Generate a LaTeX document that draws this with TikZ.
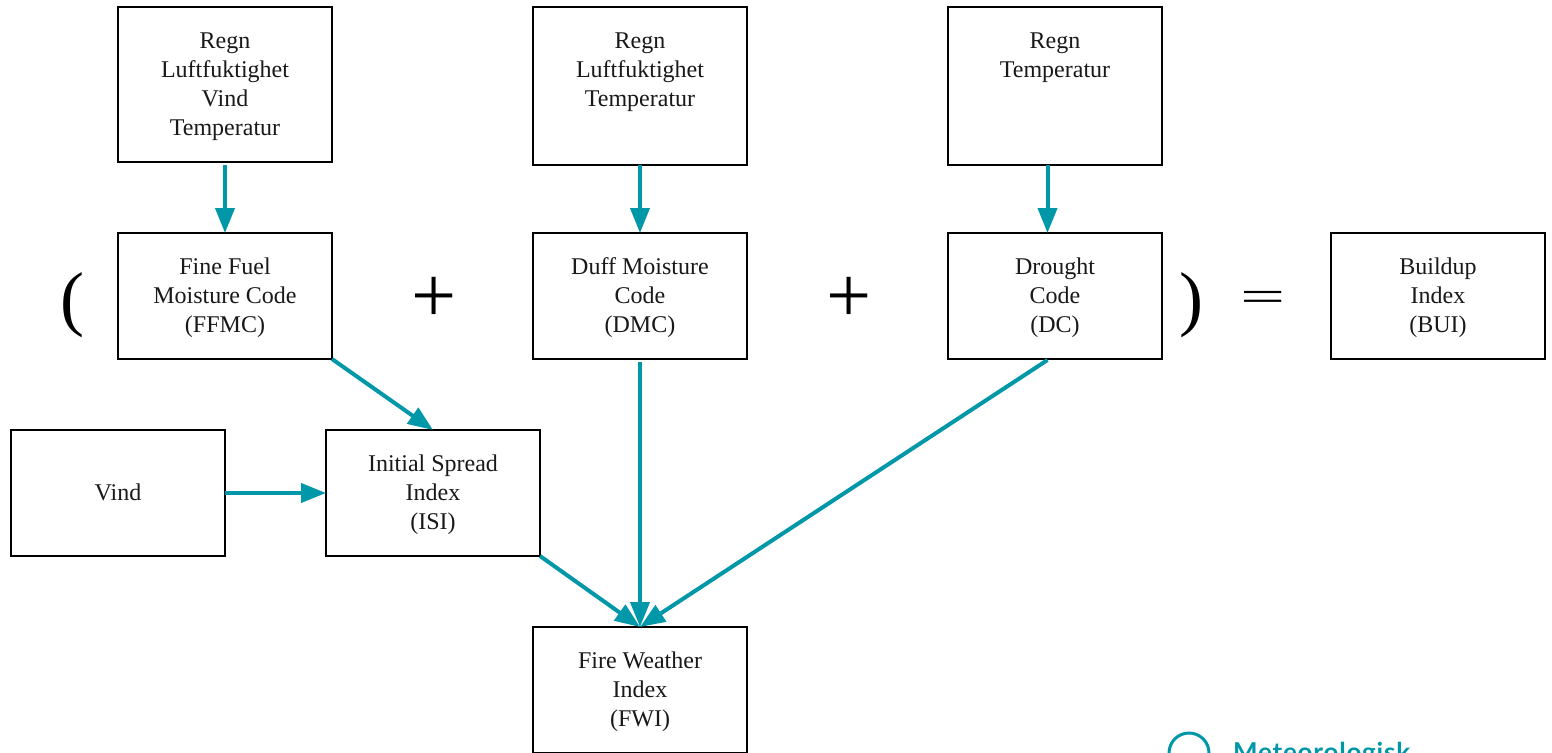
\documentclass[tikz,border=0pt]{standalone}
\usepackage{fontspec}
\setmainfont{Liberation Serif}
\newfontfamily\logofont[LetterSpace=3]{Lato}
\usetikzlibrary{arrows.meta}
\definecolor{teal}{HTML}{0097A9}
\tikzset{
  box/.style={draw=black,line width=2pt,outer sep=0pt,fill=white,inner sep=0pt,align=flush center,text width=200pt,
    font=\fontsize{24}{29}\selectfont,text=black!90,
    execute at begin node={\rule{0pt}{23pt}},execute at end node={\rule[-8pt]{0pt}{8pt}}},
  boxtext/.style={anchor=north,font=\fontsize{24}{29}\selectfont,align=center,inner sep=0pt,text=black!90},
  bigsym/.style={inner sep=0pt,font=\fontsize{72}{72}\selectfont,text=black},
  bigop/.style={inner sep=0pt,font=\fontsize{80}{80}\selectfont,text=black},
  flow/.style={draw=teal,line width=4pt,-{Triangle[length=25pt,width=19pt]}},
}
\begin{document}
\begin{tikzpicture}[x=1pt,y=-1pt]
\useasboundingbox (0,0) rectangle (1552,752);
\clip (0,0) rectangle (1552,752);
% input boxes
\node[box,minimum width=214pt,minimum height=155pt] (a1) at (225,84.5) {Regn\\Luftfuktighet\\Vind\\Temperatur};
\node[box,minimum width=214pt,minimum height=158pt,execute at begin node={},execute at end node={}] (a2) at (640,86) {};
\node[boxtext] (t2) at (640,33) {Regn\\Luftfuktighet\\Temperatur};
\node[box,minimum width=214pt,minimum height=158pt,execute at begin node={},execute at end node={}] (a3) at (1055,86) {};
\node[boxtext] (t3) at (1055,33) {Regn\\Temperatur};
% code boxes
\node[box,minimum width=214pt,minimum height=126pt] (f) at (225,296) {Fine Fuel\\Moisture Code\\(FFMC)};
\node[box,minimum width=214pt,minimum height=126pt] (d) at (640,296) {Duff Moisture\\Code\\(DMC)};
\node[box,minimum width=214pt,minimum height=126pt] (c) at (1055,296) {Drought\\Code\\(DC)};
\node[box,minimum width=214pt,minimum height=126pt] (b) at (1438,296) {Buildup\\Index\\(BUI)};
\node[box,minimum width=214pt,minimum height=126pt] (v) at (118,493) {Vind};
\node[box,minimum width=214pt,minimum height=126pt] (i) at (433,493) {Initial Spread\\Index\\(ISI)};
\node[box,minimum width=214pt,minimum height=126pt] (w) at (640,690) {Fire Weather\\Index\\(FWI)};
% symbols
\node[bigsym] (lp) at (72,305) {(};
\node[bigsym] (rp) at (1191,305) {)};
\node[bigop] (p1) at (434,300) {+};
\node[bigop] (p2) at (849,300) {+};
\node[bigop,yscale=0.55,transform shape] (eq) at (1263,301) {=};
% connectors
\draw[flow,shorten <=3pt] (a1.south) -- (f.north);
\draw[flow] (a2.south) -- (d.north);
\coordinate (a3s) at (1047.5,165);
\coordinate (c-n) at (1047.5,233);
\coordinate (c-s) at (1047.5,360);
\draw[flow] (a3s) -- (c-n);
\draw[flow] (f.south east) -- (i.north);
\draw[flow] (v.east) -- (i.west);
\draw[flow] (i.south east) -- (w.north);
\draw[flow,shorten <=3pt] (d.south) -- (w.north);
\draw[flow] (c-s) -- (w.north);
% logo, cut off by the page edge
\node[draw=teal,line width=3pt,circle,minimum size=40pt,inner sep=0pt] (logo) at (1189,753) {};
\node[anchor=base west,inner sep=0pt,text=teal,font=\logofont\bfseries\fontsize{26}{26}\selectfont] (lt) at (1233,761) {Meteorologisk};
\end{tikzpicture}
\end{document}
